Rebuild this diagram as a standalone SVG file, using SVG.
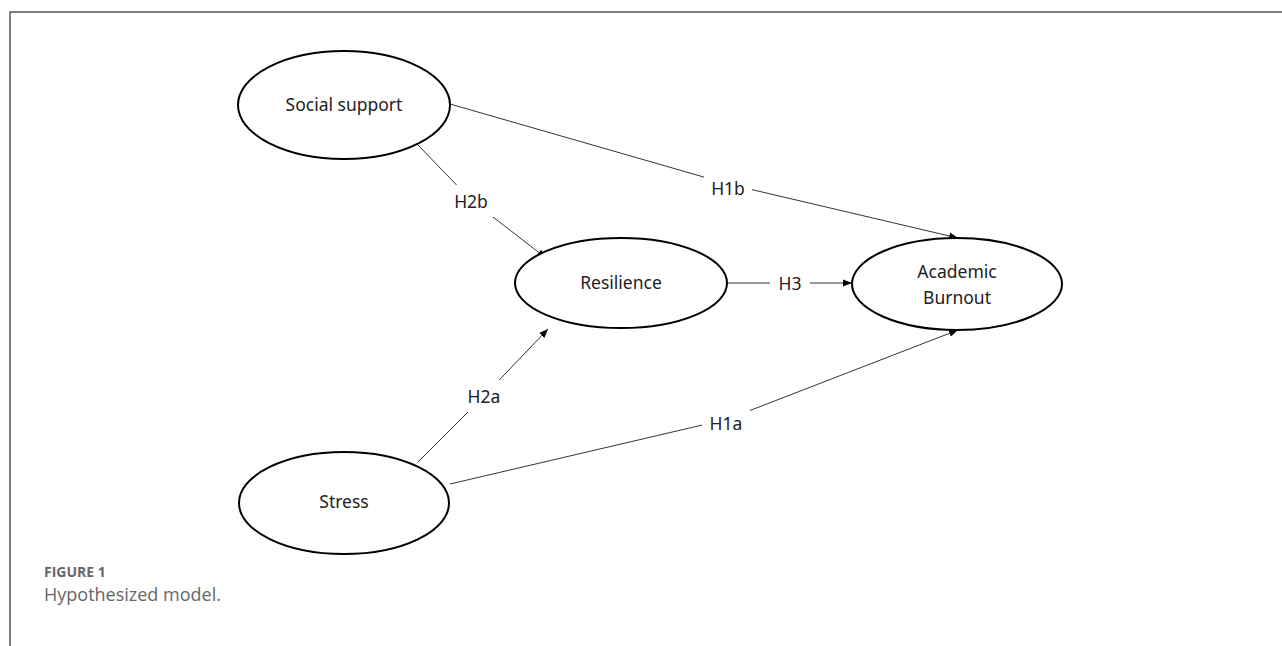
<svg xmlns="http://www.w3.org/2000/svg" width="1282" height="646" viewBox="0 0 1282 646">
<style>
.node ellipse{fill:#fff;stroke:#000;stroke-width:2}
.node text{font-family:"Noto Sans","DejaVu Sans",sans-serif;font-size:17.5px;fill:#222;text-anchor:middle;dominant-baseline:central}
.edge polyline,.edge line{fill:none;stroke:#333;stroke-width:1;marker-end:url(#arr)}
.lbl rect{fill:#fff}
.lbl text{font-family:"Noto Sans","DejaVu Sans",sans-serif;font-size:17.5px;fill:#222;text-anchor:middle;dominant-baseline:central}
.frame{stroke:#555;stroke-width:1.5;fill:none}
.cap1{font-family:"Open Sans",Lato,sans-serif;font-weight:bold;font-size:14px;fill:#666}
.cap2{font-family:"Open Sans",Lato,sans-serif;font-size:18px;fill:#666}
</style>
<defs>
<marker id="arr" viewBox="0 0 10 10" refX="10" refY="5" markerWidth="9" markerHeight="9" markerUnits="userSpaceOnUse" orient="auto">
<path d="M0,1 L10,5 L0,9 z" fill="#000"/>
</marker>
</defs>
<rect width="1282" height="646" fill="#fff"/>
<path class="frame" d="M10,646 V12 H1282"/>
<g id="connectors">
<g class="edge">
<polyline points="450,104 728,184 958,238"/>
<polyline points="418,145 471,200 546,258"/>
<line x1="728" y1="283" x2="852" y2="283"/>
<polyline points="418,462 484,396 548,329"/>
<polyline points="450,484 728,419 958,330"/>
</g>
<g class="lbl">
<rect x="704" y="172" width="48" height="32"/><text x="728" y="188">H1b</text>
<rect x="447" y="185" width="48" height="32"/><text x="471" y="201">H2b</text>
<rect x="770" y="268" width="40" height="32"/><text x="790" y="283">H3</text>
<rect x="460" y="380" width="48" height="32"/><text x="484" y="396">H2a</text>
<rect x="702" y="407" width="48" height="32"/><text x="726" y="423">H1a</text>
</g>
</g>
<g id="social-support" class="node"><ellipse cx="344" cy="105" rx="106" ry="54"/><text x="344" y="104">Social support</text></g>
<g id="resilience" class="node"><ellipse cx="621" cy="283" rx="106" ry="45"/><text x="621" y="282">Resilience</text></g>
<g id="academic-burnout" class="node"><ellipse cx="957" cy="284" rx="105" ry="46"/><text x="957" y="271">Academic</text><text x="957" y="297">Burnout</text></g>
<g id="stress" class="node"><ellipse cx="344" cy="503" rx="105" ry="51"/><text x="344" y="501">Stress</text></g>
<text class="cap1" x="44" y="577">FIGURE 1</text>
<text class="cap2" x="44" y="601">Hypothesized model.</text>
</svg>
